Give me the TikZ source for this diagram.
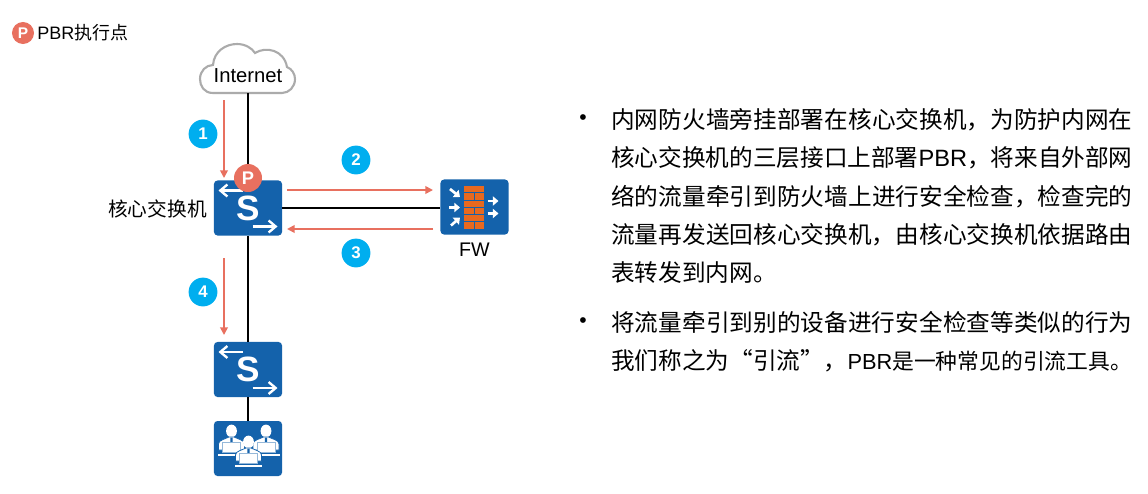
\documentclass[tikz,border=0pt]{standalone}
\usepackage{fontspec}
\usetikzlibrary{arrows.meta}
\setmainfont{Noto Sans CJK SC}
\newfontfamily\latfont{Liberation Sans}
\XeTeXlinebreaklocale "zh"
\XeTeXlinebreakskip=0pt plus 2pt minus 1pt
\definecolor{devblue}{HTML}{1462AB}
\definecolor{linkred}{HTML}{E8705F}
\definecolor{numcyan}{HTML}{00AEEF}
\definecolor{brick}{HTML}{E8691F}
\definecolor{cloudgray}{HTML}{ABABAB}
\tikzset{
  devbox/.style={fill=devblue, rounded corners=2.5pt, minimum width=1.7cm, minimum height=1.375cm, inner sep=0pt},
  link/.style={line width=1.42pt, black},
  flow/.style={line width=1.25pt, linkred, -{Triangle[width=5.5pt,length=5.5pt]}},
  numdot/.style={circle, fill=numcyan, minimum size=0.72cm, inner sep=0pt, text=white, font=\latfont\bfseries\fontsize{12}{12}\selectfont},
  pdot/.style={circle, fill=linkred, text=white, inner sep=0pt, font=\latfont\bfseries},
  whitearrow/.style={line width=1.7pt, white, -{Straight Barb[width=8.5pt,length=5pt]}},
  fwarrow/.style={line width=1.9pt, white, -{Triangle[width=6.5pt,length=4pt]}},
  swicon/.pic={
    \draw[whitearrow] (-5,-17.5) -- (-29.5,-17.5);
    \draw[whitearrow] (4.5,18.5) -- (29.5,18.5);
    \node[text=white, inner sep=0pt, font=\latfont\bfseries\fontsize{25}{25}\selectfont] (-s) at (0,0) {S};
  },
  fwicon/.pic={
    \foreach \r in {0,2,4}
      \fill[brick] (-10.5,-21+\r*7.25) rectangle (9.5,-14.6+\r*7.25);
    \foreach \r in {1,3,5} {
      \fill[brick] (-10.5,-21+\r*7.25) rectangle (-1,-14.6+\r*7.25);
      \fill[brick] (0,-21+\r*7.25) rectangle (9.5,-14.6+\r*7.25);
    }
    \draw[fwarrow] (-24.5,-18) -- (-14.5,-10);
    \draw[fwarrow] (-25.5,0.5) -- (-14.5,0.5);
    \draw[fwarrow] (-23.5,18.5) -- (-14.5,10.5);
    \draw[fwarrow] (13,-6) -- (24,-6);
    \draw[fwarrow] (13,6.5) -- (24,6.5);
  },
  person/.pic={
    \fill[white] (0,0) ellipse (5.4 and 6.4);
    \filldraw[fill=white, draw=devblue, line width=0.5pt] (-13,19) -- (-13,13) .. controls (-13,9) and (-6,8) .. (-2.5,6) -- (2.5,6) .. controls (6,8) and (13,9) .. (13,13) -- (13,19) -- cycle;
    \fill[devblue] (-1,6.5) -- (1,6.5) -- (1.2,11) -- (-1.2,11) -- cycle;
    \filldraw[fill=white, draw=devblue!45, line width=0.4pt] (-9,11.5) rectangle (9,21);
    \draw[white, line width=0.9pt] (-13.5,24) -- (13.5,24);
  },
  usericon/.pic={
    \pic at (-16.5,-17.5) {person};
    \pic at (18,-17.5) {person};
    \pic at (0.5,-6.5) {person};
  },
}
\begin{document}
\begin{tikzpicture}[x=0.025cm, y=-0.025cm]
  \useasboundingbox (0,0) rectangle (1148,493);

  \node[pdot, minimum size=0.55cm, font=\latfont\bfseries\fontsize{11}{11}\selectfont] (legendp) at (23,33) {P};
  \node[anchor=west, inner sep=0pt, font=\fontsize{12.8}{13}\selectfont] (legend) at (37,33) {{\latfont PBR}执行点};

  \filldraw[fill=white, draw=cloudgray, line width=1.5pt] (213,93) .. controls (204,93) and (200,86) .. (200,79) .. controls (200,71) and (206,65) .. (213,65) .. controls (214,51) and (226,44) .. (237,44) .. controls (245,44) and (252,48) .. (255,53) .. controls (266,46) and (284,50) .. (287,67) .. controls (292,69) and (295,74) .. (295,79) .. controls (295,87) and (289,93) .. (282,93) -- cycle;
  \node[inner sep=0pt, minimum height=0.85cm, font=\latfont\fontsize{14.4}{14.4}\selectfont] (inet) at (248,76) {Internet};

  \node[devbox] (core) at (248,208) {};
  \node[devbox] (fw) at (474.5,207) {};
  \node[devbox] (acc) at (248,369.5) {};
  \node[devbox] (users) at (248,448.5) {};
  \node[anchor=east, inner sep=0pt, font=\fontsize{14}{14}\selectfont] (corelabel) at (207,208.5) {核心交换机};
  \node[inner sep=0pt, font=\latfont\fontsize{14}{14}\selectfont] (fwlabel) at (474.5,250) {FW};

  \draw[link] (inet.south) -- (core.north);
  \draw[link] (core.east) -- (core.east -| fw.west);
  \draw[link] (core.south) -- (acc.north);
  \draw[link] (acc.south) -- (users.north);

  \pic (corei) at (core) {swicon};
  \pic (acci) at (acc) {swicon};
  \pic at (fw) {fwicon};
  \pic at (users) {usericon};

  \node[pdot, minimum size=0.7cm, font=\latfont\bfseries\fontsize{13}{13}\selectfont] (corep) at (248,178) {P};

  \coordinate (f1a) at (224,100);
  \coordinate (f1b) at (224,178);
  \coordinate (f2a) at (287,190);
  \coordinate (f2b) at (433,190);
  \coordinate (f3a) at (433,229);
  \coordinate (f3b) at (287,229);
  \coordinate (f4a) at (224,258);
  \coordinate (f4b) at (224,335);
  \draw[flow] (f1a) -- (f1b);
  \draw[flow] (f2a) -- (f2b);
  \draw[flow] (f3a) -- (f3b);
  \draw[flow] (f4a) -- (f4b);

  \node[numdot] (n1) at (203,134) {1};
  \node[numdot] (n2) at (356,160) {2};
  \node[numdot] (n3) at (356,253) {3};
  \node[numdot] (n4) at (203,292) {4};

  \node[inner sep=0pt, font=\latfont\fontsize{15}{15}\selectfont] (b1) at (583,120) {•};
  \node[inner sep=0pt, font=\latfont\fontsize{15}{15}\selectfont] (b2) at (583,323) {•};
  \node[anchor=north west, inner sep=0pt, text width=13.03cm, align=justify, font=\fontsize{16.8}{27.3}\selectfont] (para1) at (611,108) {内网防火墙旁挂部署在核心交换机，为防护内网在\linebreak 核心交换机的三层接口上部署{\latfont PBR}，将来自外部网\linebreak 络的流量牵引到防火墙上进行安全检查，检查完的\linebreak 流量再发送回核心交换机，由核心交换机依据路由\linebreak 表转发到内网。};
  \node[anchor=north west, inner sep=0pt, text width=13.03cm, align=justify, font=\fontsize{16.8}{27.3}\selectfont] (para2) at (611,311) {将流量牵引到别的设备进行安全检查等类似的行为\linebreak 我们称之为“引流”，{\fontsize{15.5}{27.3}\selectfont{\latfont PBR}是一种常见的引流工具。}};
\end{tikzpicture}
\end{document}
